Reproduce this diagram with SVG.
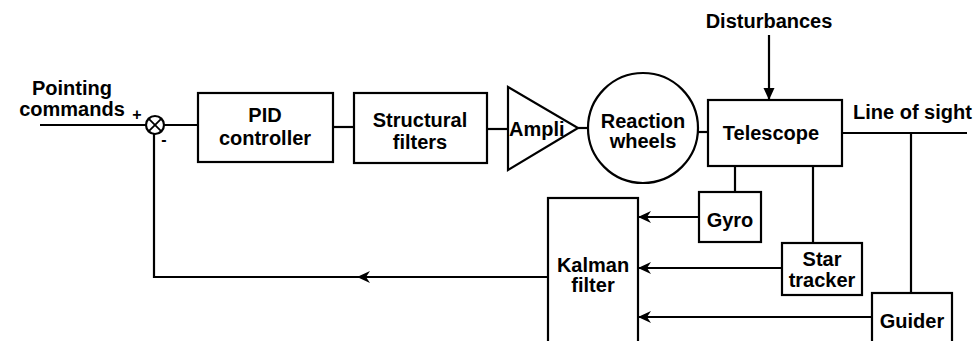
<svg xmlns="http://www.w3.org/2000/svg" width="980" height="341" viewBox="0 0 980 341">
<style>
.box{fill:none;stroke:#000;stroke-width:2.2}
.ln{fill:none;stroke:#000;stroke-width:2.2}
text{font-family:"Liberation Sans",Arial,sans-serif;font-weight:bold;font-size:20px;fill:#000;text-anchor:middle}
.s{font-size:16px}
</style>
<defs>
<marker id="barb" markerUnits="userSpaceOnUse" markerWidth="16" markerHeight="14" viewBox="-1 -7 16 14" refX="0" refY="0" orient="auto">
<path d="M0,0 L13,-6 L9,0 L13,6 Z" fill="#000"/>
</marker>
<marker id="tri" markerUnits="userSpaceOnUse" markerWidth="14" markerHeight="14" viewBox="0 -7 14 14" refX="12" refY="0" orient="auto">
<path d="M0,-5.5 L12,0 L0,5.5 Z" fill="#000"/>
</marker>
</defs>
<g id="connectors">
<line class="ln" x1="40" y1="125" x2="146" y2="125"/>
<line class="ln" x1="164" y1="125" x2="198" y2="125"/>
<line class="ln" x1="333" y1="127" x2="354" y2="127"/>
<line class="ln" x1="487" y1="129" x2="508" y2="129"/>
<line class="ln" x1="578" y1="128" x2="588" y2="128"/>
<line class="ln" x1="698" y1="132" x2="708" y2="132"/>
<line class="ln" x1="842" y1="133" x2="967" y2="133"/>
<line class="ln" x1="911" y1="133" x2="911" y2="293"/>
<line class="ln" x1="735" y1="166" x2="735" y2="192"/>
<line class="ln" x1="813" y1="166" x2="813" y2="243"/>
<line class="ln" x1="769" y1="35" x2="769" y2="100" marker-end="url(#tri)"/>
<line class="ln" x1="638" y1="217" x2="699" y2="217" marker-start="url(#barb)"/>
<line class="ln" x1="638" y1="268" x2="782" y2="268" marker-start="url(#barb)"/>
<line class="ln" x1="638" y1="317" x2="872" y2="317" marker-start="url(#barb)"/>
<polyline class="ln" points="548,277 154,277 154,134"/>
<line class="ln" x1="357" y1="277" x2="420" y2="277" marker-start="url(#barb)"/>
</g>
<g id="input-label">
<text x="72" y="95">Pointing</text>
<text x="72" y="116">commands</text>
</g>
<g id="sum">
<circle cx="155" cy="125" r="9" class="box"/>
<line class="ln" x1="148.6" y1="118.6" x2="161.4" y2="131.4" style="stroke-width:1.8"/>
<line class="ln" x1="161.4" y1="118.6" x2="148.6" y2="131.4" style="stroke-width:1.8"/>
<text class="s" x="137" y="120">+</text>
<text class="s" x="164" y="145">-</text>
</g>
<g id="pid">
<rect class="box" x="198" y="93" width="135" height="69"/>
<text x="265" y="122">PID</text>
<text x="265" y="145">controller</text>
</g>
<g id="structural">
<rect class="box" x="354" y="93" width="133" height="70"/>
<text x="420" y="127">Structural</text>
<text x="420" y="149">filters</text>
</g>
<g id="amp">
<polygon class="box" points="508,87 578,128 508,170"/>
<text x="509" y="136" style="text-anchor:start">Ampli</text>
</g>
<g id="reaction-wheels">
<circle class="box" cx="643" cy="128" r="55"/>
<text x="643" y="128">Reaction</text>
<text x="643" y="148">wheels</text>
</g>
<g id="telescope">
<rect class="box" x="708" y="100" width="134" height="66"/>
<text x="771" y="140">Telescope</text>
</g>
<g id="disturbances">
<text x="769" y="28">Disturbances</text>
</g>
<g id="line-of-sight">
<text x="853" y="119" style="text-anchor:start">Line of sight</text>
</g>
<g id="gyro">
<rect class="box" x="699" y="192" width="62" height="50"/>
<text x="730" y="227">Gyro</text>
</g>
<g id="star-tracker">
<rect class="box" x="782" y="243" width="80" height="52"/>
<text x="822" y="266">Star</text>
<text x="822" y="287">tracker</text>
</g>
<g id="kalman">
<rect class="box" x="548" y="198" width="90" height="160"/>
<text x="593" y="272">Kalman</text>
<text x="593" y="292">filter</text>
</g>
<g id="guider">
<rect class="box" x="872" y="293" width="80" height="60"/>
<text x="912" y="328">Guider</text>
</g>
</svg>
